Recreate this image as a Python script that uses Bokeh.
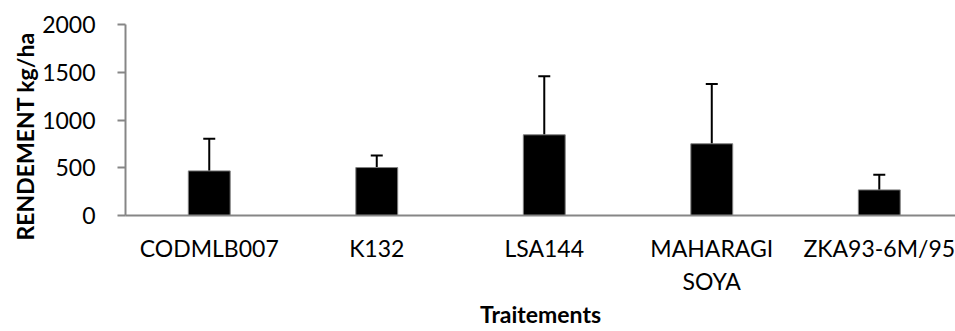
from bokeh.plotting import figure
from bokeh.models import ColumnDataSource, Range1d, FixedTicker, Whisker, TeeHead, Title
from bokeh.embed import file_html
from bokeh.resources import INLINE

# --- data ---
categories = ["CODMLB007", "K132", "LSA144", "MAHARAGI\nSOYA", "ZKA93-6M/95"]
rendement = [467, 502, 845, 751, 268]
ecart_type = [336, 126, 612, 626, 160]
y_ticks = [0, 500, 1000, 1500, 2000]

FONT = "Lato"
FS = "23px"

xs = [i + 0.5 for i in range(len(categories))]
src = ColumnDataSource(dict(
    x=xs,
    y=rendement,
    upper=[m + e for m, e in zip(rendement, ecart_type)],
))

p = figure(
    frame_width=830, frame_height=191,
    min_border_left=125, min_border_top=24, min_border_right=0, min_border_bottom=114,
    x_range=Range1d(0, 4.955), y_range=Range1d(0, 2000),
    output_backend="svg", toolbar_location=None,
)
p.outline_line_color = None
p.xgrid.visible = False
p.ygrid.visible = False
p.background_fill_color = "white"
p.border_fill_color = "white"

p.vbar(x="x", top="y", bottom=0, width=0.25, source=src,
       fill_color="black", line_color="#808080", line_width=1)

w = Whisker(source=src, base="x", lower="y", upper="upper", dimension="height",
            line_color="black", line_width=2,
            upper_head=TeeHead(size=12, line_color="black", line_width=2),
            lower_head=None)
p.add_layout(w)

AX = "#868686"
# y axis
ya = p.yaxis[0]
ya.ticker = FixedTicker(ticks=y_ticks)
ya.axis_line_color = AX
ya.axis_line_width = 2
ya.major_tick_line_color = AX
ya.major_tick_line_width = 2
ya.major_tick_out = 8
ya.major_tick_in = 0
ya.minor_tick_line_color = None
ya.major_label_standoff = 22
ya.major_label_text_font = FONT
ya.major_label_text_font_size = FS
ya.major_label_text_color = "black"

# x axis
xa = p.xaxis[0]
xa.ticker = FixedTicker(ticks=xs)
xa.major_label_overrides = {x: c for x, c in zip(xs, categories)}
xa.axis_line_color = AX
xa.axis_line_width = 2
xa.major_tick_line_color = None
xa.minor_tick_line_color = None
xa.major_label_standoff = 12
xa.major_label_text_font = FONT
xa.major_label_text_font_size = FS
xa.major_label_text_color = "black"
xa.axis_label = "Traitements"
xa.axis_label_text_font = FONT
xa.axis_label_text_font_size = FS
xa.axis_label_text_font_style = "bold"
xa.axis_label_text_color = "black"
xa.axis_label_standoff = 2

yt = Title(text="RENDEMENT kg/ha", align="left", offset=-25,
           text_font=FONT, text_font_size=FS, text_font_style="bold",
           text_color="black", standoff=2)
p.add_layout(yt, "left")

open("out.html", "w").write(file_html(p, INLINE))
